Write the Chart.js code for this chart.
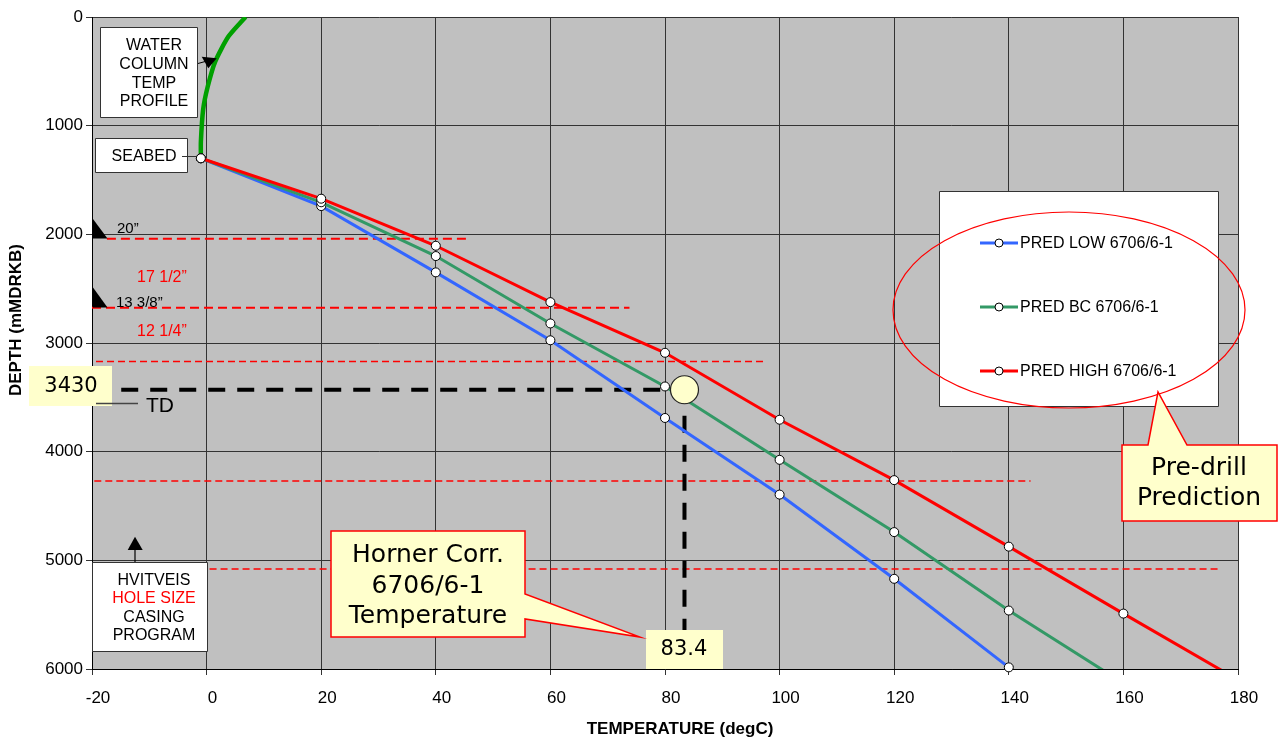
<!DOCTYPE html>
<html>
<head>
<meta charset="utf-8">
<title>Temperature prediction 6706/6-1</title>
<script src="https://cdn.jsdelivr.net/npm/chart.js@4.4.1/dist/chart.umd.min.js"></script>
<style>
  body { margin: 0; background: #fff; }
  canvas { display: block; }
</style>
</head>
<body>
<canvas id="tempChart" width="1278" height="742"></canvas>
<script>
// Pre-drill temperature prediction, depth in mMDRKB vs temperature in degC
const tempSteps = [-1, 20, 40, 60, 80, 100, 120, 140, 160, 180];
const predLow  = [1300, 1740, 2350, 2975, 3690, 4395, 5170, 5985];
const predBC   = [1300, 1705, 2200, 2820, 3400, 4075, 4740, 5462, 6130];
const predHigh = [1300, 1672, 2105, 2624, 3090, 3706, 4262, 4874, 5490, 6100];

// water column temp profile, seabed up to sea level
const waterTemps  = [-1, -1, -0.6, 0.2, 1.5, 3.8, 6.8];
const waterDepths = [1300, 1150, 850, 640, 410, 180, 0];

// hole size / casing program markers
const casingDepths = [2040, 2675, 3170, 4270, 5080];
const casingFrom   = [-17.4, -20, -19.3, -19.6, -20.6];
const casingTo     = [45.4, 73.8, 97.5, 143.8, 176.6];

// TD and Horner corrected temperature
const tdDepth = 3430;
const tdLineStart = -14.9;
const tdLineEnd = 80;
const hornerTemp = 83.4;

const xTickValues = [-20, 0, 20, 40, 60, 80, 100, 120, 140, 160, 180];
const yTickValues = [0, 1000, 2000, 3000, 4000, 5000, 6000];

const toXY = (xs, ys) => ys.map((y, i) => ({ x: xs[i], y: y }));

const ARIAL = '"Liberation Sans", Arial, sans-serif';
const VERDANA = '"DejaVu Sans", Verdana, sans-serif';

function seriesStyle(color, order) {
    return {
        borderColor: color,
        backgroundColor: color,
        borderWidth: 3,
        pointRadius: 4.5,
        pointBackgroundColor: '#ffffff',
        pointBorderColor: '#000000',
        pointBorderWidth: 1,
        tension: 0,
        order: order
    };
}

const datasets = [];

casingDepths.forEach((d, i) => {
    datasets.push({
        data: [{ x: casingFrom[i], y: d }, { x: casingTo[i], y: d }],
        borderColor: '#FF0000',
        borderWidth: i < 2 ? 2 : 1.4,
        borderDash: i < 2 ? [9, 5] : [7, 4],
        pointRadius: 0,
        order: 10
    });
});

datasets.push({
    label: 'WATER COLUMN TEMP PROFILE',
    data: toXY(waterTemps, waterDepths),
    borderColor: '#00A000',
    borderWidth: 4.5,
    pointRadius: 0,
    tension: 0.2,
    order: 6
});

// dashed TD / Horner lines
datasets.push({
    data: [{ x: tdLineStart, y: tdDepth }, { x: tdLineEnd, y: tdDepth }],
    borderColor: '#000000',
    borderWidth: 4,
    borderDash: [17, 12],
    pointRadius: 0,
    order: 5
});
datasets.push({
    data: [{ x: hornerTemp, y: tdDepth }, { x: hornerTemp, y: 6000 }],
    borderColor: '#000000',
    borderWidth: 4,
    borderDash: [17, 12],
    borderDashOffset: 3,
    pointRadius: 0,
    order: 5
});

datasets.push(Object.assign({ label: 'PRED LOW 6706/6-1', data: toXY(tempSteps, predLow),
    clip: { left: 0, top: 0, right: 0, bottom: 6 }, inLegend: true }, seriesStyle('#3366FF', 3)));
datasets.push(Object.assign({ label: 'PRED BC 6706/6-1', data: toXY(tempSteps, predBC),
    inLegend: true }, seriesStyle('#339966', 2)));
datasets.push(Object.assign({ label: 'PRED HIGH 6706/6-1', data: toXY(tempSteps, predHigh),
    inLegend: true }, seriesStyle('#FF0000', 1)));

datasets.push({
    data: [{ x: hornerTemp, y: tdDepth }],
    showLine: false,
    pointRadius: 14,
    pointBackgroundColor: '#FFFFCC',
    pointBorderColor: '#222222',
    pointBorderWidth: 1.2,
    order: 0
});

const plotBackground = {
    id: 'plotBackground',
    beforeDraw(chart) {
        const { ctx, chartArea: a } = chart;
        ctx.save();
        ctx.fillStyle = '#C0C0C0';
        ctx.fillRect(a.left, a.top, a.width, a.height);
        ctx.restore();
    }
};

function rectBox(ctx, x1, y1, x2, y2, fill, stroke, lw) {
    ctx.beginPath();
    ctx.rect(x1, y1, x2 - x1, y2 - y1);
    if (fill) { ctx.fillStyle = fill; ctx.fill(); }
    if (stroke) { ctx.strokeStyle = stroke; ctx.lineWidth = lw || 1; ctx.stroke(); }
}

function textLines(ctx, lines, x, ys, font, colors) {
    ctx.font = font;
    ctx.textAlign = 'center';
    ctx.textBaseline = 'middle';
    lines.forEach((t, i) => {
        ctx.fillStyle = colors ? colors[i] : '#000';
        ctx.fillText(t, x, ys[i]);
    });
}

function polygon(ctx, pts, fill, stroke, lw) {
    ctx.beginPath();
    ctx.moveTo(pts[0][0], pts[0][1]);
    for (let i = 1; i < pts.length; i++) ctx.lineTo(pts[i][0], pts[i][1]);
    ctx.closePath();
    if (fill) { ctx.fillStyle = fill; ctx.fill(); }
    if (stroke) { ctx.strokeStyle = stroke; ctx.lineWidth = lw || 1; ctx.stroke(); }
}

const overlays = {
    id: 'overlays',
    afterDraw(chart) {
        const ctx = chart.ctx;
        ctx.save();

        // axis titles
        ctx.fillStyle = '#000';
        ctx.font = 'bold 17px ' + ARIAL;
        ctx.textAlign = 'center';
        ctx.textBaseline = 'middle';
        ctx.fillText('TEMPERATURE (degC)', 680, 729);
        ctx.save();
        ctx.translate(16, 320);
        ctx.rotate(-Math.PI / 2);
        ctx.fillText('DEPTH (mMDRKB)', 0, 0);
        ctx.restore();

        // water column label + arrow
        rectBox(ctx, 100.5, 27.5, 197.5, 117.5, '#fff', '#333', 1);
        textLines(ctx, ['WATER', 'COLUMN', 'TEMP', 'PROFILE'], 154, [46, 65, 84, 102], '16px ' + ARIAL);
        ctx.strokeStyle = '#000';
        ctx.lineWidth = 1;
        ctx.beginPath(); ctx.moveTo(198, 63.5); ctx.lineTo(207, 61); ctx.stroke();
        polygon(ctx, [[201.7, 56.7], [208.3, 68.3], [216.7, 58.3]], '#000');

        // seabed label
        rectBox(ctx, 95.5, 138.5, 187.5, 172.5, '#fff', '#333', 1);
        textLines(ctx, ['SEABED'], 144, [157], '16px ' + ARIAL);
        ctx.strokeStyle = '#333';
        ctx.beginPath(); ctx.moveTo(182, 156.5); ctx.lineTo(196, 156.5); ctx.stroke();

        // casing shoe triangles and sizes
        polygon(ctx, [[93, 219], [93, 238.5], [107.5, 238.5]], '#000');
        polygon(ctx, [[93, 287.5], [93, 307.5], [107.5, 307.5]], '#000');
        ctx.font = '15px ' + ARIAL;
        ctx.textAlign = 'left';
        ctx.textBaseline = 'middle';
        ctx.fillStyle = '#000';
        ctx.fillText('20\u201D', 117, 229);
        ctx.fillText('13 3/8\u201D', 116, 303);
        ctx.font = '16px ' + ARIAL;
        ctx.fillStyle = '#FF0000';
        ctx.fillText('17 1/2\u201D', 137, 278);
        ctx.fillText('12 1/4\u201D', 137, 332);

        // TD depth label
        rectBox(ctx, 29, 366, 112, 406, '#FFFFCC');
        textLines(ctx, ['3430'], 71, [387], '21px ' + VERDANA);
        ctx.strokeStyle = '#444';
        ctx.lineWidth = 1.5;
        ctx.beginPath(); ctx.moveTo(96, 403.5); ctx.lineTo(138, 403.5); ctx.stroke();
        ctx.font = '21px ' + ARIAL;
        ctx.textAlign = 'left';
        ctx.fillStyle = '#000';
        ctx.fillText('TD', 146, 406);

        // hole size / casing program box
        rectBox(ctx, 92.5, 562.5, 207.5, 651.5, '#fff', '#333', 1);
        textLines(ctx, ['HVITVEIS', 'HOLE SIZE', 'CASING', 'PROGRAM'], 154, [581, 599, 617.5, 636],
            '16px ' + ARIAL, ['#000', '#FF0000', '#000', '#000']);
        ctx.strokeStyle = '#000';
        ctx.lineWidth = 1.2;
        ctx.beginPath(); ctx.moveTo(135, 562); ctx.lineTo(135, 549); ctx.stroke();
        polygon(ctx, [[127.7, 550], [142.7, 550], [135, 536.7]], '#000');

        // Horner temperature value + callout
        rectBox(ctx, 646, 630, 723, 669, '#FFFFCC');
        textLines(ctx, ['83.4'], 684, [650], '21px ' + VERDANA);
        polygon(ctx, [[331, 531], [525, 531], [525, 594], [640, 637], [525, 619], [525, 637], [331, 637]],
            '#FFFFCC', '#FF0000', 1.5);
        textLines(ctx, ['Horner Corr.', '6706/6-1', 'Temperature'], 428, [555, 586, 616], '25px ' + VERDANA);

        // legend box
        rectBox(ctx, 939.5, 191.5, 1218.5, 406.5, '#fff', '#333', 1);
        const legendSets = chart.data.datasets.filter(d => d.inLegend);
        const rowY = [243, 307, 371];
        legendSets.forEach((ds, i) => {
            const y = rowY[i];
            ctx.strokeStyle = ds.borderColor;
            ctx.lineWidth = 3;
            ctx.beginPath(); ctx.moveTo(980, y); ctx.lineTo(1018, y); ctx.stroke();
            ctx.beginPath(); ctx.arc(999, y, 4, 0, Math.PI * 2);
            ctx.fillStyle = '#fff'; ctx.fill();
            ctx.strokeStyle = '#000'; ctx.lineWidth = 1; ctx.stroke();
            ctx.font = '16px ' + ARIAL;
            ctx.textAlign = 'left';
            ctx.textBaseline = 'middle';
            ctx.fillStyle = '#000';
            ctx.fillText(ds.label, 1020, y + 1);
        });

        // red ellipse round the legend
        ctx.beginPath();
        ctx.ellipse(1069, 310, 176, 98, 0, 0, Math.PI * 2);
        ctx.strokeStyle = '#FF0000';
        ctx.lineWidth = 1.2;
        ctx.stroke();

        // pre-drill callout
        polygon(ctx, [[1122, 445], [1148, 445], [1158, 392], [1187, 445], [1277, 445], [1277, 521], [1122, 521]],
            '#FFFFCC', '#FF0000', 1.5);
        textLines(ctx, ['Pre-drill', 'Prediction'], 1199, [468, 498], '25px ' + VERDANA);

        ctx.restore();
    }
};

const chart = new Chart(document.getElementById('tempChart'), {
    type: 'line',
    data: { datasets: datasets },
    options: {
        responsive: false,
        animation: false,
        events: [],
        layout: { padding: { top: 17, right: 40, bottom: 0, left: 0 } },
        plugins: {
            legend: { display: false },
            tooltip: { enabled: false },
            title: { display: false }
        },
        scales: {
            x: {
                type: 'linear',
                min: -20,
                max: 180,
                afterBuildTicks: scale => { scale.ticks = xTickValues.map(v => ({ value: v })); },
                afterFit: scale => { scale.height = 73; },
                grid: { color: '#333', lineWidth: 1, tickLength: 6, drawTicks: true },
                border: { color: '#000', width: 1 },
                ticks: {
                    autoSkip: false,
                    maxRotation: 0,
                    padding: 13,
                    labelOffset: 6,
                    color: '#000',
                    font: { family: ARIAL, size: 17 },
                    callback: v => String(v)
                }
            },
            y: {
                type: 'linear',
                reverse: true,
                min: 0,
                max: 6000,
                afterBuildTicks: scale => { scale.ticks = yTickValues.map(v => ({ value: v })); },
                afterFit: scale => { scale.width = 92; },
                grid: { color: '#333', lineWidth: 1, tickLength: 6, drawTicks: true },
                border: { color: '#000', width: 1 },
                ticks: {
                    autoSkip: false,
                    padding: 3,
                    color: '#000',
                    font: { family: ARIAL, size: 17 },
                    callback: v => String(v)
                }
            }
        }
    },
    plugins: [plotBackground, overlays]
});
</script>
</body>
</html>
